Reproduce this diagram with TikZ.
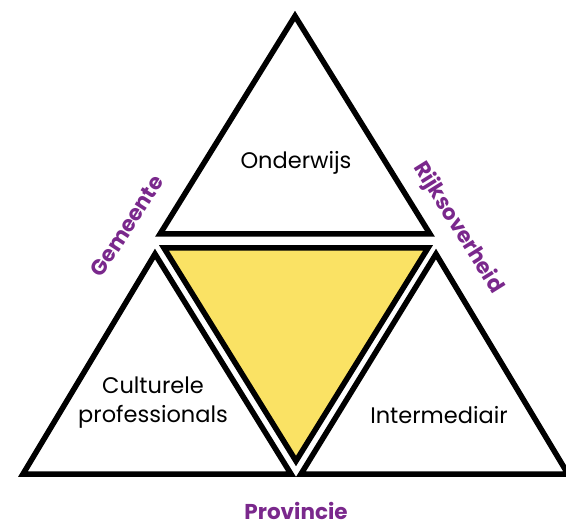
\documentclass[tikz,border=0pt]{standalone}
\usepackage{fontspec}
\setmainfont{Poppins}
\definecolor{lila}{RGB}{122,40,140}
\definecolor{geel}{RGB}{250,226,100}
\begin{document}
\begin{tikzpicture}[x=1pt,y=-1pt,
  tri/.style={draw=black,line width=5.5pt,line join=miter},
  lbl/.style={font=\fontsize{22.5}{30}\selectfont,align=center,inner sep=0pt,anchor=base},
  side/.style={font=\fontsize{21.5}{25}\selectfont\bfseries,text=lila,inner sep=0pt}]
\useasboundingbox (0,0) rectangle (566,524);
% top triangle
\coordinate (t1) at (160,234);
\coordinate (t2) at (295,16);
\coordinate (t3) at (430,234);
% yellow triangle
\coordinate (y1) at (164,248);
\coordinate (y2) at (428,248);
\coordinate (y3) at (296,461);
% left triangle
\coordinate (l1) at (23,474);
\coordinate (l2) at (155,254);
\coordinate (l3) at (291,474);
% right triangle
\coordinate (r1) at (301,474);
\coordinate (r2) at (436,254);
\coordinate (r3) at (568,474);
\draw[tri] (t1) -- (t2) -- (t3) -- cycle;
\draw[tri,fill=geel] (y1) -- (y2) -- (y3) -- cycle;
\draw[tri] (l1) -- (l2) -- (l3) -- cycle;
\draw[tri] (r1) -- (r2) -- (r3) -- cycle;
\node[lbl] (onderwijs) at (296,169) {Onderwijs};
\node[lbl] (cult) at (153,393) {Culturele};
\node[lbl] (prof) at (153,423) {professionals};
\node[lbl] (inter) at (439,424) {Intermediair};
\node[side,anchor=base] (prov) at (296,519) {Provincie};
\node[side,rotate=57] (gem) at (127,226) {Gemeente};
\node[side,rotate=-58] (rijk) at (458,228) {Rijksoverheid};
\end{tikzpicture}
\end{document}
